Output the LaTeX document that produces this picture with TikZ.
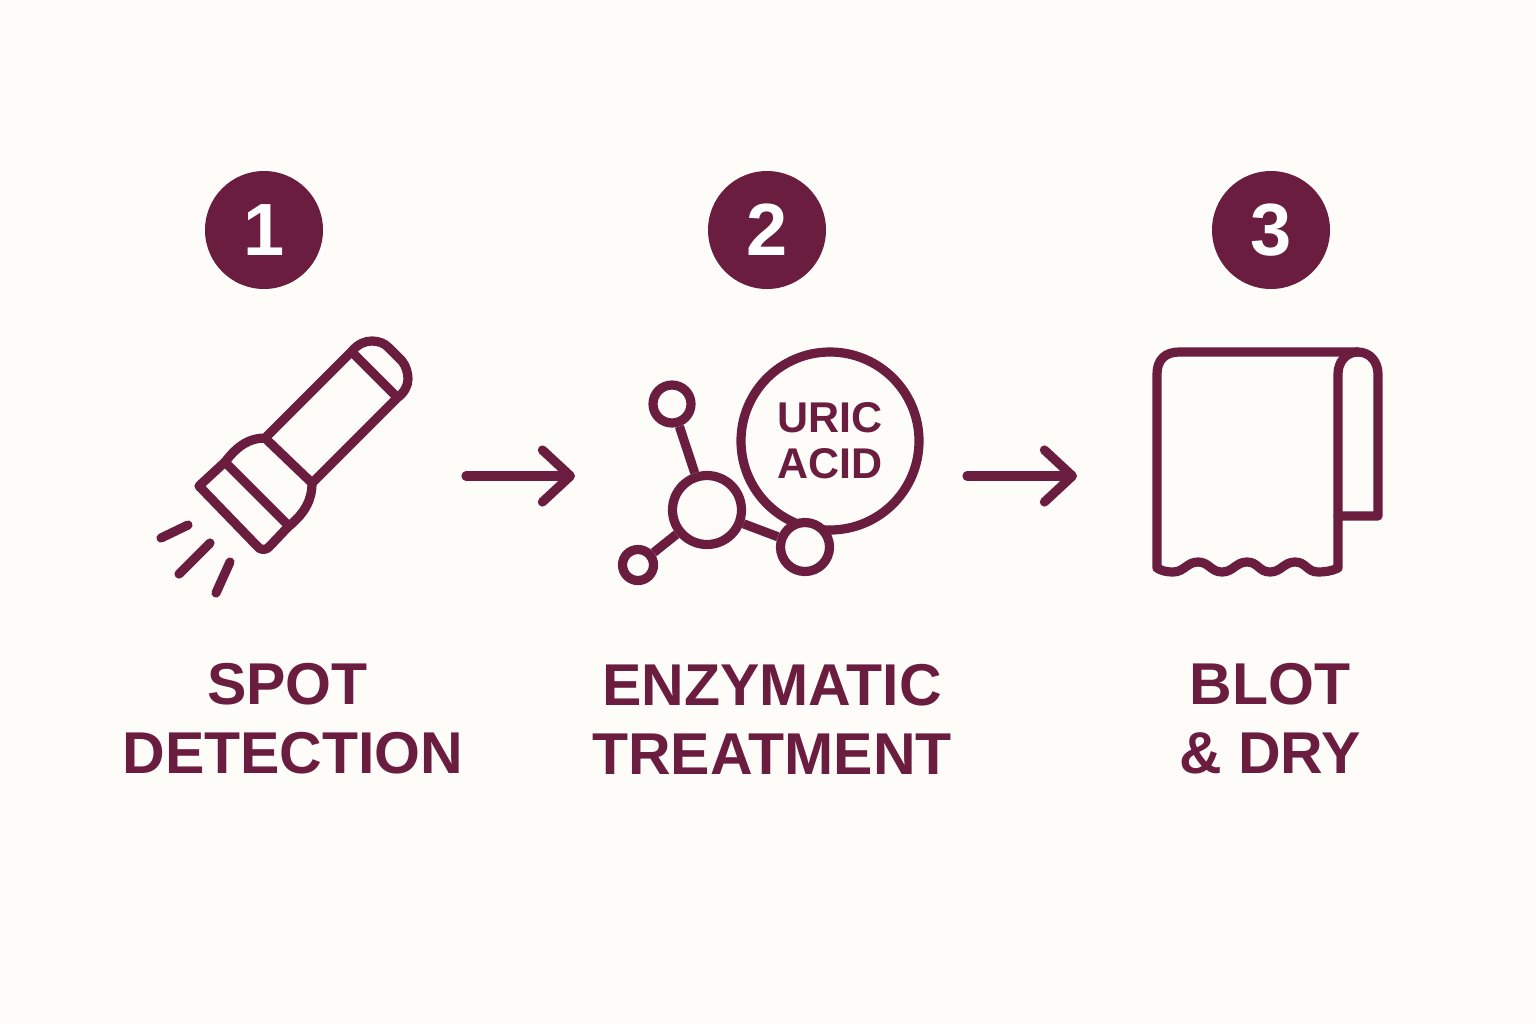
\documentclass[tikz,border=0pt]{standalone}
\usepackage{fontspec}
\setmainfont{Liberation Sans}
\usetikzlibrary{arrows.meta}
\definecolor{dark}{RGB}{107, 29, 63}
\definecolor{paper}{RGB}{253, 252, 249}
\newcommand*{\w}{4.6}

\begin{document}
\begin{tikzpicture}[
   x=0.5pt, y=-0.5pt,
   stepcirc/.style={circle, fill=dark, text=white, inner sep=0, minimum size=59pt,
                    font=\fontsize{37}{37}\selectfont\bfseries},
   steplab/.style={text=dark, align=center, inner sep=0,
                   font=\fontsize{29.5}{34.5}\selectfont\bfseries},
   atom/.style={circle, draw=dark, fill=paper, line width=\w, inner sep=0},
   bond/.style={draw=dark, line width=\w},
   icon/.style={draw=dark, line width=\w, line cap=round, line join=round},
   flow/.style={-{Straight Barb[length=14pt, width=26pt, line width=\w, round]}, draw=dark,
                line width=\w, line cap=round}
  ]

  \fill[paper] (0, 0) rectangle (1536, 1024);
  \useasboundingbox (0, 0) rectangle (1536, 1024);

  % Step numbers
  \node (N1) at (264, 230) [stepcirc] {\raisebox{-1pt}{1}};
  \node (N2) at (767, 230) [stepcirc] {\raisebox{-1pt}{2}};
  \node (N3) at (1271, 230) [stepcirc] {\raisebox{-1pt}{3}};

  % Flashlight
  \draw[icon, fill=paper] (199, 486) -- (225, 462)
    .. controls (238, 445) and (250, 438) .. (265, 438)
    -- (352, 351) .. controls (358, 344) and (365, 341) .. (372, 341)
    .. controls (378, 341) and (384, 343) .. (388, 347)
    -- (402, 361) .. controls (406, 366) and (408, 373) .. (408, 379)
    .. controls (408, 386) and (404, 393) .. (397, 398)
    -- (312, 483) .. controls (312, 500) and (305, 513) .. (288, 527)
    -- (269, 547) .. controls (266, 550) and (262, 550) .. (259, 548) -- cycle;
  \draw[icon] (225, 462) -- (288, 525);
  \draw[icon] (265, 438) -- (312, 483);
  \draw[icon] (352, 352) -- (395, 395);
  \draw[icon] (161, 538) -- (188, 525);
  \draw[icon] (179, 574) -- (210, 543);
  \draw[icon] (216, 593) -- (230, 562);

  % Molecule
  \node (U) at (830, 441) [atom, minimum size=89pt, align=center, text=dark,
     font=\fontsize{21.5}{23}\selectfont\bfseries] {URIC\\ACID};
  \node (C) at (707, 510) [atom, minimum size=34.5pt] {};
  \node (T) at (672, 404) [atom, minimum size=19pt] {};
  \node (L) at (638, 565) [atom, minimum size=15.5pt] {};
  \node (R) at (805, 547) [atom, minimum size=24.5pt] {};
  \foreach \B/\E in {C/T, C/L, C/R} {
    \draw[bond] (\B) -- (\E);
  }

  % Towel
  \draw[icon, fill=paper] (1157, 568) -- (1157, 374)
    .. controls (1157, 360) and (1165, 352) .. (1179, 352)
    -- (1358, 352) .. controls (1370, 352) and (1378, 362) .. (1378, 374)
    -- (1378, 516) -- (1338, 516) -- (1338, 568)
    .. controls (1332, 571) and (1325, 572) .. (1318, 572)
    .. controls (1307, 572) and (1306, 562) .. (1295, 562)
    .. controls (1284, 562) and (1281, 572) .. (1270, 572)
    .. controls (1259, 572) and (1258, 562) .. (1247, 562)
    .. controls (1236, 562) and (1233, 572) .. (1222, 572)
    .. controls (1211, 572) and (1209, 562) .. (1198, 562)
    .. controls (1187, 562) and (1184, 572) .. (1173, 572)
    .. controls (1167, 572) and (1162, 571) .. cycle;
  \draw[icon] (1338, 516) -- (1338, 374) .. controls (1338, 362) and (1346, 352) .. (1358, 352);

  % Arrows
  \coordinate (A1) at (466, 476);
  \coordinate (B1) at (575, 476);
  \coordinate (A2) at (967, 476);
  \coordinate (B2) at (1077, 476);
  \draw[flow] (A1) -- (B1);
  \draw[flow] (A2) -- (B2);

  % Labels
  \node (S1) at (293, 719) [steplab] {SPOT\hspace*{5.5pt}\\DETECTION};
  \node (S2) at (772, 719) [steplab] {ENZYMATIC\\TREATMENT};
  \node (S3) at (1270, 719) [steplab] {BLOT\\\& DRY};

\end{tikzpicture}
\end{document}
